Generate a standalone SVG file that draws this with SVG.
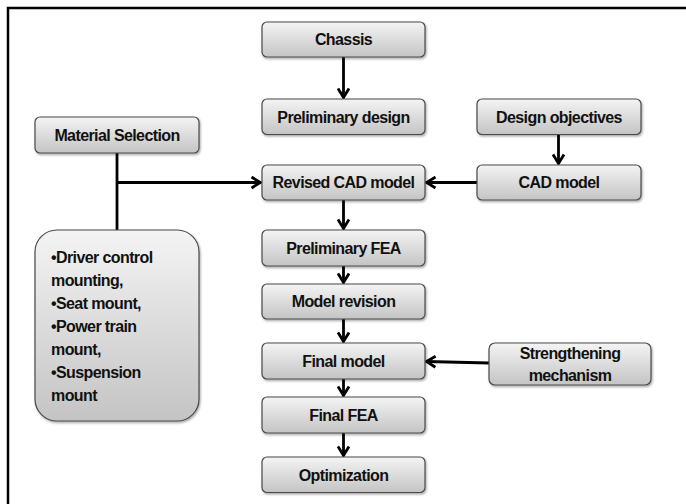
<svg xmlns="http://www.w3.org/2000/svg" width="686" height="504" viewBox="0 0 686 504">
<style>
.box{fill:url(#g);stroke:#4a4a4a;stroke-width:1.2;filter:url(#sh)}
.t{font-family:"Liberation Sans",Arial,sans-serif;font-weight:bold;font-size:16px;fill:#111;text-anchor:middle;letter-spacing:-0.6px}
.bl{font-family:"Liberation Sans",Arial,sans-serif;font-weight:bold;font-size:16px;fill:#111;letter-spacing:-0.6px}
.c{fill:none;stroke:#000;stroke-width:2.8}
</style>
<defs>
<linearGradient id="g" x1="0" y1="0" x2="0" y2="1">
<stop offset="0" stop-color="#f4f4f4"/>
<stop offset="1" stop-color="#c4c4c4"/>
</linearGradient>
<filter id="sh" x="-10%" y="-10%" width="120%" height="130%">
<feDropShadow dx="1" dy="1.5" stdDeviation="1.2" flood-color="#000" flood-opacity="0.35"/>
</filter>
<marker id="a" viewBox="0 0 14 14" refX="12" refY="7" markerWidth="14" markerHeight="14" markerUnits="userSpaceOnUse" orient="auto">
<path d="M2.5,1.5 L11.5,7 L2.5,12.5" fill="none" stroke="#000" stroke-width="2.8" stroke-linejoin="miter"/>
</marker>
</defs>
<rect width="686" height="504" fill="#fff"/>
<path d="M8,504 L8,8 L686,8" fill="none" stroke="#000" stroke-width="2.5"/>

<g id="connectors">
<line class="c" x1="343.5" y1="57" x2="343.5" y2="98" marker-end="url(#a)"/>
<line class="c" x1="117" y1="153" x2="117" y2="230"/>
<line class="c" x1="117" y1="182.5" x2="261" y2="182.5" marker-end="url(#a)"/>
<line class="c" x1="477" y1="182.5" x2="426" y2="182.5" marker-end="url(#a)"/>
<line class="c" x1="558.5" y1="135" x2="558.5" y2="164" marker-end="url(#a)"/>
<line class="c" x1="343.5" y1="200" x2="343.5" y2="229" marker-end="url(#a)"/>
<line class="c" x1="343.5" y1="266" x2="343.5" y2="283" marker-end="url(#a)"/>
<line class="c" x1="343.5" y1="319" x2="343.5" y2="342" marker-end="url(#a)"/>
<line class="c" x1="489" y1="363" x2="426" y2="361.5" marker-end="url(#a)"/>
<line class="c" x1="343.5" y1="379" x2="343.5" y2="396" marker-end="url(#a)"/>
<line class="c" x1="343.5" y1="433" x2="343.5" y2="456" marker-end="url(#a)"/>
</g>

<g id="chassis"><rect class="box" x="262" y="22" width="163" height="35" rx="5"/><text class="t" x="343.5" y="45">Chassis</text></g>
<g id="preliminary-design"><rect class="box" x="262" y="99" width="163" height="35.5" rx="5"/><text class="t" x="343.5" y="122.5">Preliminary design</text></g>
<g id="design-objectives"><rect class="box" x="477" y="99" width="164" height="35.5" rx="5"/><text class="t" x="559" y="122.5">Design objectives</text></g>
<g id="material-selection"><rect class="box" x="35" y="117" width="164" height="36" rx="5"/><text class="t" x="117" y="140.5">Material Selection</text></g>
<g id="revised-cad-model"><rect class="box" x="262" y="165" width="163" height="35" rx="5"/><text class="t" x="343.5" y="188">Revised CAD model</text></g>
<g id="cad-model"><rect class="box" x="477" y="165" width="164" height="35" rx="5"/><text class="t" x="559" y="188">CAD model</text></g>
<g id="preliminary-fea"><rect class="box" x="262" y="230" width="163" height="36" rx="5"/><text class="t" x="343.5" y="253.5">Preliminary FEA</text></g>
<g id="model-revision"><rect class="box" x="262" y="284" width="163" height="35" rx="5"/><text class="t" x="343.5" y="307">Model revision</text></g>
<g id="final-model"><rect class="box" x="262" y="343" width="163" height="36" rx="5"/><text class="t" x="343.5" y="366.5">Final model</text></g>
<g id="strengthening-mechanism"><rect class="box" x="489" y="343" width="162" height="42" rx="6"/><text class="t" x="570" y="358.5">Strengthening</text><text class="t" x="570" y="381">mechanism</text></g>
<g id="final-fea"><rect class="box" x="262" y="397" width="163" height="36" rx="5"/><text class="t" x="343.5" y="420.5">Final FEA</text></g>
<g id="optimization"><rect class="box" x="262" y="457" width="163" height="35.5" rx="5"/><text class="t" x="343.5" y="480.5">Optimization</text></g>
<g id="mounting-list"><rect class="box" x="35" y="230" width="164" height="191" rx="22"/>
<text class="bl" x="51" y="263">•Driver control</text>
<text class="bl" x="51" y="286">mounting,</text>
<text class="bl" x="51" y="309">•Seat mount,</text>
<text class="bl" x="51" y="332">•Power train</text>
<text class="bl" x="51" y="355">mount,</text>
<text class="bl" x="51" y="377.5">•Suspension</text>
<text class="bl" x="51" y="400.5">mount</text>
</g>
</svg>
